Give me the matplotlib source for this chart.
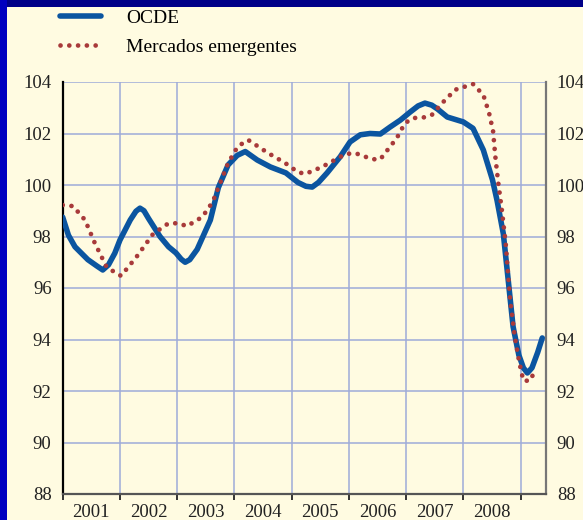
import matplotlib
matplotlib.use("Agg")
import matplotlib.pyplot as plt
from matplotlib.patches import Rectangle
from matplotlib.ticker import FixedLocator, NullFormatter, FixedFormatter

plt.rcParams['font.family'] = ['Liberation Serif', 'DejaVu Serif']

# OCDE (blue solid line)
ocde_x = [2001.0, 2001.1, 2001.215, 2001.44, 2001.6, 2001.7, 2001.8, 2001.91, 2002.0, 2002.18,
          2002.28, 2002.35, 2002.42, 2002.5, 2002.7, 2002.85, 2002.98, 2003.07, 2003.14, 2003.22,
          2003.35, 2003.58, 2003.72, 2003.89, 2004.05, 2004.19, 2004.4, 2004.63, 2004.9, 2005.11,
          2005.25, 2005.36, 2005.47, 2005.62, 2005.85, 2006.02, 2006.2, 2006.37, 2006.55, 2006.72,
          2006.9, 2007.07, 2007.21, 2007.33, 2007.45, 2007.55, 2007.72, 2008.0, 2008.17, 2008.35,
          2008.51, 2008.59, 2008.7, 2008.79, 2008.87, 2008.97, 2009.05, 2009.12,
          2009.2, 2009.3, 2009.38]
ocde_y = [98.75, 98.05, 97.6, 97.1, 96.85, 96.7, 96.9, 97.35, 97.86, 98.64,
          98.98, 99.1, 99.0, 98.7, 98.0, 97.6, 97.36, 97.12, 97.0, 97.1,
          97.5, 98.64, 99.9, 100.78, 101.15, 101.3, 100.97, 100.7, 100.47, 100.1,
          99.95, 99.92, 100.1, 100.47, 101.1, 101.67, 101.95, 102.0, 101.98, 102.25,
          102.52, 102.83, 103.07, 103.18, 103.1, 102.95, 102.64, 102.45, 102.2, 101.36,
          100.2, 99.4, 98.1, 96.2, 94.5, 93.4, 92.9, 92.7,
          92.9, 93.5, 94.06]

# Mercados emergentes (red dotted line)
em_x = [2001.0, 2001.18, 2001.39, 2001.56, 2001.77, 2002.02, 2002.3, 2002.58,
        2002.84, 2003.02, 2003.17, 2003.44, 2003.62, 2003.72, 2003.89, 2004.06,
        2004.24, 2004.59, 2004.89, 2005.11, 2005.24, 2005.53, 2005.94, 2006.11,
        2006.41, 2006.55, 2006.84, 2006.98, 2007.12, 2007.3, 2007.45, 2007.63,
        2007.86, 2008.17, 2008.35, 2008.45, 2008.52, 2008.56, 2008.61, 2008.67,
        2008.74, 2008.82, 2008.9, 2008.98, 2009.05, 2009.17, 2009.22]
em_y = [99.22, 99.18, 98.64, 97.75, 96.8, 96.47, 97.24, 98.1,
        98.5, 98.52, 98.4, 98.76, 99.34, 99.9, 100.85, 101.5,
        101.75, 101.24, 100.85, 100.5, 100.43, 100.7, 101.2, 101.24,
        101.0, 101.0, 101.83, 102.4, 102.6, 102.62, 102.72, 103.18,
        103.7, 103.92, 103.5, 102.8, 102.1, 101.1, 100.1, 99.1,
        97.75, 95.5, 94.1, 93.1, 92.4, 92.4, 92.65]

years = [2001, 2002, 2003, 2004, 2005, 2006, 2007, 2008]
y_ticks = [88, 90, 92, 94, 96, 98, 100, 102, 104]

CREAM = '#fffbe1'
GRID = '#9eabd9'
BLUE = '#0b55a0'
RED = '#a83a3a'

fig = plt.figure(figsize=(5.83, 5.2), dpi=100)
fig.patch.set_facecolor('#00009a')
# cream panel and blue border strips
fig.add_artist(Rectangle((0, 1 - 7 / 520), 1, 7 / 520, transform=fig.transFigure,
                         facecolor='#000088', edgecolor='none', zorder=-3))
fig.add_artist(Rectangle((0, 0), 7 / 583, 1, transform=fig.transFigure,
                         facecolor='#0000c0', edgecolor='none', zorder=-3))
fig.add_artist(Rectangle((7 / 583, 0), 1, 1 - 7 / 520, transform=fig.transFigure,
                         facecolor=CREAM, edgecolor='none', zorder=-2))

ax = fig.add_axes([62.7 / 583, 26 / 520, 483 / 583, 412 / 520])
ax.set_facecolor(CREAM)

ax.plot(ocde_x, ocde_y, color=BLUE, lw=4.0, solid_capstyle='round',
        solid_joinstyle='round', label='OCDE', zorder=3)
ax.plot(em_x, em_y, color=RED, lw=3.4, linestyle=(0, (0.01, 1.85)),
        dash_capstyle='round', label='Mercados emergentes', zorder=4)

ax.set_xlim(2001, 2009.44)
ax.set_ylim(88, 104)

# grid
for yv in y_ticks[1:]:
    ax.axhline(yv, color=GRID, lw=1.1, zorder=1)
for xv in years[1:] + [2009]:
    ax.axvline(xv, color=GRID, lw=1.1, zorder=1)

# spines
ax.spines['top'].set_visible(False)
ax.spines['left'].set_color('black')
ax.spines['left'].set_linewidth(1.6)
ax.spines['right'].set_color('#777777')
ax.spines['right'].set_linewidth(1.6)
ax.spines['bottom'].set_color('#555555')
ax.spines['bottom'].set_linewidth(1.6)

# y ticks both sides
ax.set_yticks(y_ticks)
ax.tick_params(axis='y', length=0, labelsize=13.5, pad=8, colors='#222222',
               labelright=True, right=False)

# x: ticks at year boundaries, labels centred within years
ax.xaxis.set_major_locator(FixedLocator(years + [2009]))
ax.xaxis.set_major_formatter(NullFormatter())
ax.xaxis.set_minor_locator(FixedLocator([y + 0.5 for y in years]))
ax.xaxis.set_minor_formatter(FixedFormatter([str(y) for y in years]))
ax.tick_params(axis='x', which='major', length=4, width=1.4, color='#333333',
               direction='out')
ax.tick_params(axis='x', which='minor', length=0, labelsize=13.5, pad=7,
               labelcolor='#222222')

ax.legend(loc='upper left', bbox_to_anchor=(60 / 583, 1 - 9 / 520),
          bbox_transform=fig.transFigure, frameon=False, fontsize=14,
          handlelength=2.1, handletextpad=1.3, labelspacing=0.6,
          borderpad=0, borderaxespad=0)

fig.savefig('out.png', dpi=100, facecolor=fig.get_facecolor())
